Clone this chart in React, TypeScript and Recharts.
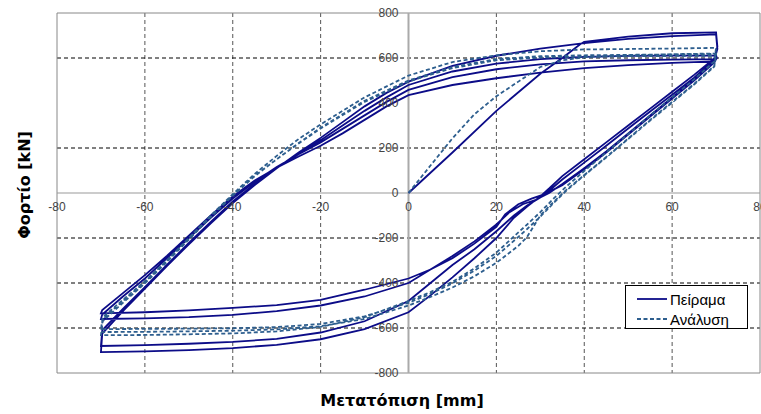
import { CartesianGrid, Line, LineChart, ReferenceDot, ReferenceLine, XAxis, YAxis } from "recharts";

type Pt = [number, number];

const xTicks = [-80, -60, -40, -20, 0, 20, 40, 60, 80];
const yTicks = [-800, -600, -400, -200, 0, 200, 400, 600, 800];
const xGrid = [-60, -40, -20, 20, 40, 60];
const yGrid = [-600, -400, -200, 200, 600];

// Πείραμα (experiment)
const expInit: Pt[] = [[0, 0], [10, 180], [20, 365], [30, 530], [35, 600], [39, 660], [40, 672], [50, 695], [60, 710], [70, 714]];
const expF1: Pt[] = [[70.3, 650], [69.6, 598], [65, 525], [60, 450], [55, 375], [50, 300], [45, 225], [40, 150], [35, 75], [32, 20], [30, -15], [27, -60], [24, -110], [20, -200], [15, -290], [10, -375], [5, -455], [0, -530], [-10, -605], [-20, -650], [-30, -675], [-40, -689], [-50, -698], [-60, -704], [-70, -707]];
const expR1: Pt[] = [[-69.7, -625], [-65, -525], [-60, -425], [-55, -325], [-50, -228], [-45, -135], [-40, -45], [-35, 35], [-30, 110], [-25, 180], [-20, 245], [-15, 315], [-10, 385], [-5, 445], [0, 495], [10, 565], [20, 610], [30, 642], [40, 666], [50, 685], [60, 697], [70, 705]];
const expF2: Pt[] = [[70.3, 640], [69.6, 590], [65, 512], [60, 437], [55, 362], [50, 287], [45, 210], [40, 135], [35, 60], [32, 10], [30, -20], [27, -55], [24, -100], [20, -170], [15, -250], [10, -320], [5, -400], [0, -480], [-10, -570], [-20, -620], [-30, -648], [-40, -662], [-50, -670], [-60, -676], [-70, -680]];
const expR2: Pt[] = [[-69.7, -610], [-65, -515], [-60, -418], [-55, -320], [-50, -222], [-45, -128], [-40, -38], [-35, 40], [-30, 112], [-25, 175], [-20, 235], [-15, 300], [-10, 365], [-5, 425], [0, 480], [10, 540], [20, 575], [30, 595], [40, 605], [50, 609], [60, 611], [70, 612]];
const expF3: Pt[] = [[70.2, 600], [69.6, 585], [65, 505], [60, 425], [55, 345], [50, 265], [45, 185], [40, 110], [35, 40], [32, 0], [29, -30], [26, -50], [23, -85], [20, -140], [15, -215], [10, -280], [5, -340], [0, -400], [-10, -460], [-20, -500], [-30, -525], [-40, -542], [-50, -552], [-60, -557], [-70, -560]];
const expR3: Pt[] = [[-69.7, -540], [-65, -460], [-60, -380], [-55, -290], [-50, -200], [-45, -110], [-40, -25], [-35, 50], [-30, 115], [-25, 172], [-20, 225], [-15, 285], [-10, 345], [-5, 405], [0, 458], [10, 515], [20, 550], [30, 572], [40, 585], [50, 590], [60, 593], [70, 595]];
const expF4: Pt[] = [[69.6, 580], [65, 500], [60, 420], [55, 340], [50, 260], [45, 180], [40, 105], [35, 35], [31, -5], [28, -25], [25, -50], [22, -95], [20, -150], [15, -225], [10, -290], [5, -340], [0, -380], [-10, -430], [-20, -475], [-30, -498], [-40, -511], [-50, -522], [-60, -530], [-70, -535]];
const expR4: Pt[] = [[-69.7, -520], [-65, -445], [-60, -365], [-55, -280], [-50, -190], [-45, -100], [-40, -15], [-35, 55], [-30, 112], [-25, 162], [-20, 210], [-15, 265], [-10, 325], [-5, 385], [0, 435], [10, 480], [20, 510], [30, 535], [40, 555], [50, 568], [60, 578], [70, 585]];

// Ανάλυση (analysis)
const anaInit: Pt[] = [[0, 0], [5, 122], [10, 243], [15, 350], [20, 430], [25, 495], [30, 560], [35, 590], [40, 603], [50, 612], [60, 617], [70, 620]];
const anaF1: Pt[] = [[69.6, 565], [65, 485], [60, 405], [55, 325], [50, 242], [45, 160], [40, 80], [36, 15], [33, -40], [30, -100], [27, -195], [25, -235], [20, -310], [15, -370], [10, -420], [5, -462], [0, -500], [-10, -560], [-20, -592], [-30, -606], [-40, -612], [-50, -615], [-60, -617], [-70, -618]];
const anaR1: Pt[] = [[-69.6, -560], [-65, -480], [-60, -395], [-55, -300], [-50, -200], [-45, -100], [-40, -5], [-35, 85], [-30, 165], [-25, 240], [-20, 305], [-10, 425], [0, 522], [10, 582], [20, 612], [30, 630], [40, 638], [50, 640], [60, 642], [70, 645]];
const anaF2: Pt[] = [[69.6, 585], [65, 505], [60, 425], [55, 345], [50, 262], [45, 180], [40, 98], [36, 30], [33, -25], [30, -85], [27, -140], [25, -175], [20, -265], [15, -335], [10, -395], [5, -440], [0, -480], [-10, -552], [-20, -595], [-30, -615], [-40, -624], [-50, -628], [-60, -631], [-70, -632]];
const anaR2: Pt[] = [[-69.6, -570], [-65, -488], [-60, -402], [-55, -307], [-50, -207], [-45, -107], [-40, -12], [-35, 75], [-30, 150], [-25, 222], [-20, 290], [-10, 410], [0, 500], [10, 560], [20, 595], [30, 608], [40, 612], [50, 614], [60, 616], [70, 618]];
const anaF3: Pt[] = [[69.6, 562], [65, 482], [60, 402], [55, 322], [50, 240], [45, 158], [40, 78], [36, 12], [33, -45], [30, -105], [27, -160], [25, -195], [20, -280], [15, -345], [10, -402], [5, -448], [0, -488], [-10, -548], [-20, -582], [-30, -596], [-40, -601], [-50, -603], [-60, -604], [-70, -605]];
const anaR3: Pt[] = [[-69.6, -552], [-65, -475], [-60, -392], [-55, -300], [-50, -202], [-45, -104], [-40, -10], [-35, 76], [-30, 150], [-25, 220], [-20, 287], [-10, 405], [0, 496], [10, 555], [20, 590], [30, 602], [40, 606], [50, 608], [60, 609], [70, 610]];

const toPts = (arr: Pt[]) => arr.map(([x, y]) => ({ x, y }));

const experiment = toPts([...expInit, ...expF1, ...expR1, ...expF2, ...expR2, ...expF3, ...expR3, ...expF4, ...expR4]);
const analysis = toPts([...anaInit, ...anaF1, ...anaR1, ...anaF2, ...anaR2, ...anaF3, ...anaR3]);

const EXP_COLOR = "#0c0c88";
const ANA_COLOR = "#2d5e8e";
const labelFont = "'Liberation Sans', Arial, sans-serif";

export default function App() {
	return (
		<div style={{ position: "absolute", left: 0, top: 0, width: 761, height: 414, background: "#fff" }}>
			<LineChart width={761} height={414} margin={{ top: 13, right: 1, bottom: 41, left: 57 }}>
				<XAxis dataKey="x" type="number" domain={[-80, 80]} allowDataOverflow hide />
				<YAxis dataKey="y" type="number" domain={[-800, 800]} allowDataOverflow hide />
				<CartesianGrid horizontal={false} verticalValues={xGrid} stroke="#555" strokeDasharray="4 3" />
				<CartesianGrid vertical={false} horizontalValues={yGrid} stroke="#000" strokeDasharray="4 3" />
				<ReferenceLine x={-80} stroke="#888" />
				<ReferenceLine x={80} stroke="#888" />
				<ReferenceLine y={800} stroke="#888" />
				<ReferenceLine y={-800} stroke="#888" />
				<ReferenceLine y={0} stroke="#999" />
				<ReferenceLine x={0} stroke="#aaa" strokeWidth={2} />
				{xTicks.map((t) => (
					<ReferenceDot
						key={"x" + t}
						x={t}
						y={0}
						r={0}
						shape={(p: any) => (
							<text x={p.cx} y={p.cy + 14} textAnchor="middle" dominantBaseline="central" fontSize={12} fontFamily={labelFont} fill="#444">
								{t}
							</text>
						)}
					/>
				))}
				{yTicks.map((t) => (
					<ReferenceDot
						key={"y" + t}
						x={0}
						y={t}
						r={0}
						shape={(p: any) => (
							<text x={p.cx - 10} y={p.cy} textAnchor="end" dominantBaseline="central" fontSize={12} fontFamily={labelFont} fill="#444">
								{t}
							</text>
						)}
					/>
				))}
				<Line data={experiment} dataKey="y" type="linear" stroke={EXP_COLOR} strokeWidth={1.8} dot={false} isAnimationActive={false} />
				<Line data={analysis} dataKey="y" type="linear" stroke={ANA_COLOR} strokeWidth={1.8} strokeDasharray="4 2.5" dot={false} isAnimationActive={false} />
			</LineChart>
			<div
				style={{
					position: "absolute",
					left: 24,
					top: 185,
					transform: "translate(-50%, -50%) rotate(-90deg)",
					whiteSpace: "nowrap",
					fontFamily: "'DejaVu Sans', sans-serif",
					fontWeight: 700,
					fontSize: 16,
					color: "#000",
				}}
			>
				Φορτίο [kN]
			</div>
			<div
				style={{
					position: "absolute",
					left: 402,
					top: 400,
					transform: "translate(-50%, -50%)",
					whiteSpace: "nowrap",
					fontFamily: "'DejaVu Sans', sans-serif",
					fontWeight: 700,
					fontSize: 16,
					color: "#000",
				}}
			>
				Μετατόπιση [mm]
			</div>
			<div
				style={{
					position: "absolute",
					left: 625,
					top: 285,
					width: 121,
					height: 42,
					border: "1px solid #000",
					background: "#fff",
					fontFamily: labelFont,
					fontSize: 15,
					color: "#000",
				}}
			>
				{[
					{ name: "Πείραμα", color: EXP_COLOR, dash: undefined },
					{ name: "Ανάλυση", color: ANA_COLOR, dash: "4 2.5" },
				].map((item, i) => (
					<div key={item.name} style={{ position: "absolute", left: 11, top: 3 + i * 20, height: 20, display: "flex", alignItems: "center" }}>
						<svg width={30} height={4} style={{ marginRight: 3 }}>
							<line x1={0} y1={2} x2={30} y2={2} stroke={item.color} strokeWidth={1.8} strokeDasharray={item.dash} />
						</svg>
						<span>{item.name}</span>
					</div>
				))}
			</div>
		</div>
	);
}
